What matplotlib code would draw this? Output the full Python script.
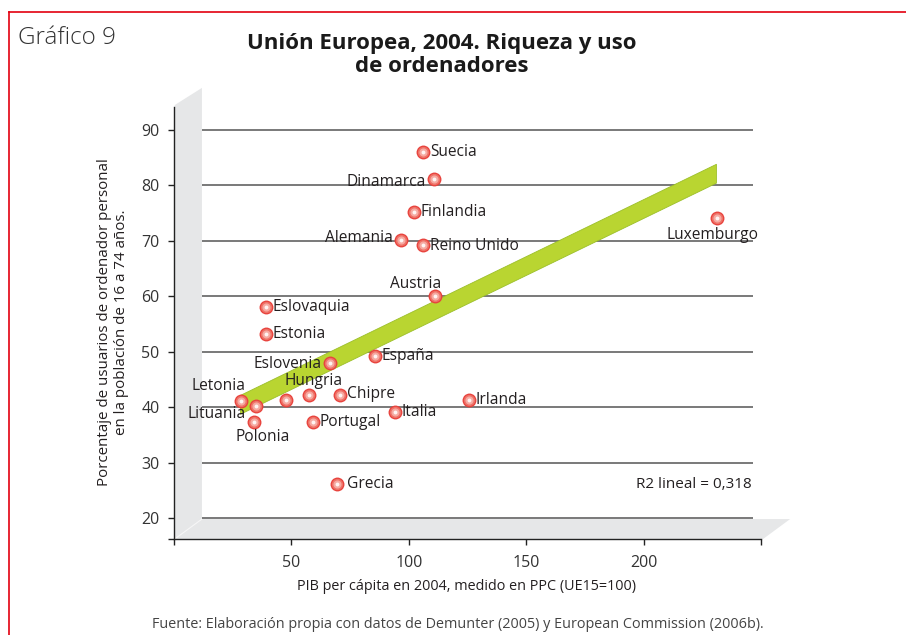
import matplotlib
matplotlib.use("Agg")
import matplotlib.pyplot as plt
from matplotlib.patches import Polygon
import numpy as np

# ---------------- data ----------------
countries = ["Suecia", "Dinamarca", "Finlandia", "Alemania", "Reino Unido", "Austria",
             "Luxemburgo", "Eslovaquia", "Estonia", "Eslovenia", "España", "Letonia",
             "Lituania", "Polonia", "", "Hungria", "Chipre", "Portugal", "Italia",
             "Irlanda", "Grecia"]
pib = [106.0, 110.7, 102.2, 96.7, 106.0, 111.2,
       231.3, 39.2, 39.2, 66.4, 85.6, 28.5,
       34.9, 34.1, 47.7, 57.5, 70.7, 59.2, 94.1,
       125.6, 69.4]
usuarios = [86.0, 81.2, 75.2, 70.2, 69.3, 60.0,
            74.1, 58.1, 53.2, 48.0, 49.2, 41.1,
            40.2, 37.3, 41.3, 42.2, 42.2, 37.3, 39.1,
            41.3, 26.1]
fit_x = [28.1, 230.8]
fit_y = [40.5, 82.2]
yticks = [20, 30, 40, 50, 60, 70, 80, 90]
xticks = [0, 50, 100, 150, 200, 250]
xticklabels = ["", "50", "100", "150", "200", ""]
r2_text = "R2 lineal = 0,318"

# label offsets (points) and alignment
label_pos = {
    "Suecia": (5, 0, "left", "center"),
    "Dinamarca": (-6, -2, "right", "center"),
    "Finlandia": (5, 0, "left", "center"),
    "Alemania": (-6, 1, "right", "center"),
    "Reino Unido": (5, -1, "left", "center"),
    "Austria": (-14, 9, "center", "center"),
    "Luxemburgo": (-3.6, -12, "center", "center"),
    "Eslovaquia": (5, 0, "left", "center"),
    "Estonia": (5, 0, "left", "center"),
    "Eslovenia": (-6, -1, "right", "center"),
    "España": (5, 0, "left", "center"),
    "Letonia": (3, 11, "right", "center"),
    "Lituania": (-7, -6, "right", "center"),
    "Polonia": (6.5, -11, "center", "center"),
    "Hungria": (3, 10, "center", "center"),
    "Chipre": (5, 1, "left", "center"),
    "Portugal": (5, 0, "left", "center"),
    "Italia": (5, 0, "left", "center"),
    "Irlanda": (5, 0, "left", "center"),
    "Grecia": (7, 0, "left", "center"),
}

FONT = ["Open Sans", "DejaVu Sans"]
plt.rcParams["font.family"] = FONT
TXT = "#231f20"

W, H = 906, 635
fig = plt.figure(figsize=(W / 100, H / 100), dpi=100)

def fx(px):
    return px / W

def fy(py):
    return 1 - py / H

# axes: x 0..250 -> px 174..761, y limits -> px 539..107
ax = fig.add_axes([fx(174), fy(539), (761 - 174) / W, (539 - 107) / H])
ylo, yhi = 16.2, 94.15
ax.set_xlim(0, 250)
ax.set_ylim(ylo, yhi)
ax.patch.set_alpha(0)

wall_c = "#e6e7e8"
dx, dy = 11.9, 3.6
# wall
ax.add_patch(Polygon([(0.3, ylo), (0.3, 94.5), (dx, 97.6), (dx, ylo + dy)],
                     closed=True, fc=wall_c, ec="none", clip_on=False, zorder=0))
# floor
ax.add_patch(Polygon([(0.3, ylo), (dx, ylo + dy), (262.4, ylo + dy), (250.9, ylo)],
                     closed=True, fc=wall_c, ec="none", clip_on=False, zorder=0))
ax.plot([0.3, dx], [ylo, ylo + dy], color="#f6f6f6", lw=0.8, zorder=0.5, clip_on=False)

# gridlines
ax.hlines(yticks, dx, 246.6, colors="#555555", lw=1.1, zorder=1)

# regression band
fxa = np.array(fit_x)
fya = np.array(fit_y)
ax.fill_between(fxa, fya - 1.7, fya + 1.7, facecolor="#b9d531", edgecolor="#9cbf2a",
                lw=0.6, zorder=2)

# markers (layered to imitate radial gradient)
ax.scatter(pib, usuarios, s=100, color="#e8423c", zorder=3, linewidths=0)
ax.scatter(pib, usuarios, s=66, color="#ef7268", zorder=4, linewidths=0)
ax.scatter(pib, usuarios, s=34, color="#f6aaa2", zorder=5, linewidths=0)
ax.scatter(pib, usuarios, s=8, color="#fff4f2", zorder=6, linewidths=0)

for name, x, y in zip(countries, pib, usuarios):
    if not name:
        continue
    ox, oy, ha, va = label_pos[name]
    ax.annotate(name, (x, y), xytext=(ox, oy), textcoords="offset points",
                ha=ha, va=va, fontsize=11.2, color=TXT, zorder=7)

# spines and ticks
for s in ["top", "right"]:
    ax.spines[s].set_visible(False)
for s in ["left", "bottom"]:
    ax.spines[s].set_color("#222222")
    ax.spines[s].set_linewidth(1.0)
ax.set_yticks([ylo] + yticks)
ax.set_yticklabels([""] + [str(v) for v in yticks])
ax.set_xticks(xticks)
ax.set_xticklabels(xticklabels)
ax.tick_params(axis="both", direction="out", length=4.5, width=1.0, color="#222222",
               labelsize=11.5, labelcolor="#333333")
ax.tick_params(axis="y", pad=6)
ax.tick_params(axis="x", pad=7)

ax.text(246, 26.0, r2_text, ha="right", va="center", fontsize=11, color=TXT)

# axis titles
fig.text(fx(467), fy(587), "PIB per cápita en 2004, medido en PPC (UE15=100)",
         ha="center", va="center", fontsize=10.4, color=TXT)
fig.text(fx(113), fy(322), "Porcentaje de usuarios de ordenador personal\nen la población de 16 a 74 años.",
         ha="center", va="center", rotation=90, fontsize=10.9, color=TXT,
         linespacing=1.15)

# titles
fig.text(fx(442), fy(55), "Unión Europea, 2004. Riqueza y uso\nde ordenadores",
         ha="center", va="center", fontsize=16, fontweight="bold", color="#1a1a1a",
         linespacing=1.18)
fig.text(fx(18), fy(38), "Gráfico 9", ha="left", va="center", fontsize=17.5,
         color="#333333", fontweight="light")
fig.text(fx(458), fy(625),
         "Fuente: Elaboración propia con datos de Demunter (2005) y European Commission (2006b).",
         ha="center", va="center", fontsize=10.4, color="#444444")

# red frame
fig.add_artist(plt.Line2D([fx(9), 1.0], [fy(11.5), fy(11.5)], color="#e3000f", lw=1.2))
fig.add_artist(plt.Line2D([fx(9), fx(9)], [fy(11.5), 0.0], color="#e3000f", lw=1.2))

fig.savefig("out.png", dpi=100)
